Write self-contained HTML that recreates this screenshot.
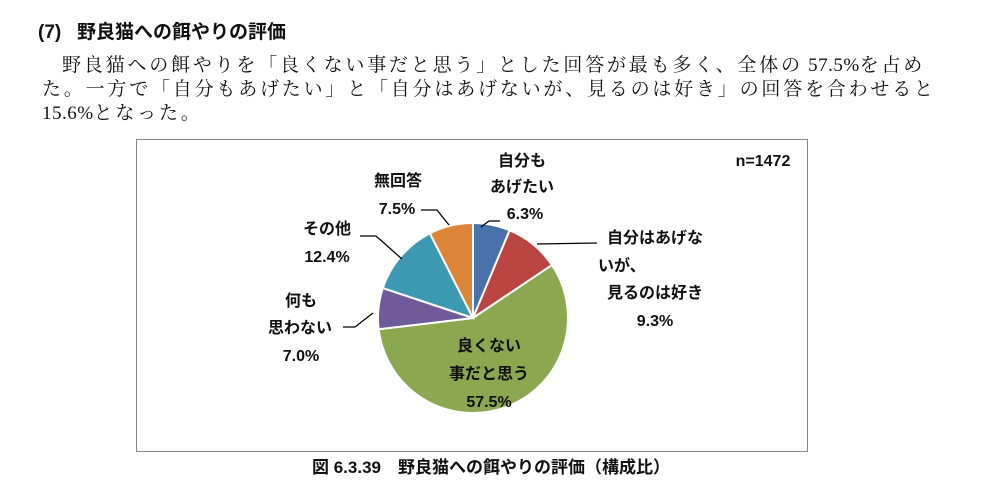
<!DOCTYPE html>
<html><head><meta charset="utf-8"><style>
body{margin:0;background:#fff;width:982px;height:488px;overflow:hidden;position:relative}
.t{position:absolute;white-space:nowrap;color:#111}
.h{font-family:"Liberation Sans","Noto Sans CJK JP",sans-serif;font-weight:bold;font-size:19px}
.p{font-family:"Liberation Serif","Noto Serif CJK SC",serif;font-size:19px;letter-spacing:2.8px}
.p span{letter-spacing:0.5px}
</style></head><body>
<div class="t h" style="left:38px;top:17px">(7)&nbsp;&nbsp;&nbsp;野良猫への餌やりの評価</div>
<div class="t p" style="left:62px;top:50px">野良猫への餌やりを「良くない事だと思う」とした回答が最も多く、全体の<span> 57.5%</span>を占め</div>
<div class="t p" style="left:42px;top:74px">た。一方で「自分もあげたい」と「自分はあげないが、見るのは好き」の回答を合わせると</div>
<div class="t p" style="left:42px;top:98px"><span>15.6%</span>となった。</div>
<svg width="982" height="488" style="position:absolute;left:0;top:0" font-family="Liberation Sans,Noto Sans CJK JP,sans-serif" font-size="16" font-weight="600" fill="#111">
<rect x="136.5" y="139.5" width="671" height="312" fill="none" stroke="#888" stroke-width="1"/>
<g id="pie" stroke="#fff" stroke-width="2"></g>
<g stroke="#000" stroke-width="1.3" fill="none">
<polyline points="421,210 437,210 449,225"/>
<polyline points="500,221 489,221 481,227"/>
<polyline points="597,243 537,244"/>
<polyline points="360,236 376,236 402,259"/>
<polyline points="343,327 355,327 373,313"/>
</g>
<g text-anchor="middle">
<text x="522" y="166">自分も</text><text x="522" y="192">あげたい</text><text x="525" y="219">6.3%</text>
<text x="398" y="186">無回答</text><text x="397" y="214">7.5%</text>
<text x="327" y="234">その他</text><text x="327" y="262">12.4%</text>
<text x="301" y="306">何も</text><text x="300" y="333">思わない</text><text x="301" y="361">7.0%</text>
<text x="655" y="243">自分はあげな</text><text x="655" y="298">見るのは好き</text><text x="655" y="326">9.3%</text>
<text x="489" y="351">良くない</text><text x="489" y="379">事だと思う</text><text x="489" y="407">57.5%</text>
</g>
<text x="598" y="271">いが、</text>
<text x="763" y="166" text-anchor="middle">n=1472</text>
<text x="491" y="473" text-anchor="middle" font-size="17" font-weight="bold">図 6.3.39　野良猫への餌やりの評価（構成比）</text>
</svg>
<script>
var d=[[6.3,"#4a72aa"],[9.3,"#b94440"],[57.5,"#8ba74f"],[7.0,"#6f5a9a"],[12.4,"#3b9ab1"],[7.5,"#dc8538"]];
var cx=473,cy=318,r=95,a=0,g=document.getElementById("pie"),s="";
d.forEach(function(e){var a2=a+e[0]/100*2*Math.PI;
var x1=cx+r*Math.sin(a),y1=cy-r*Math.cos(a),x2=cx+r*Math.sin(a2),y2=cy-r*Math.cos(a2);
s+='<path d="M'+cx+','+cy+'L'+x1+','+y1+'A'+r+','+r+' 0 '+(a2-a>Math.PI?1:0)+' 1 '+x2+','+y2+'Z" fill="'+e[1]+'"/>';a=a2;});
g.innerHTML=s;
</script>
</body></html>
